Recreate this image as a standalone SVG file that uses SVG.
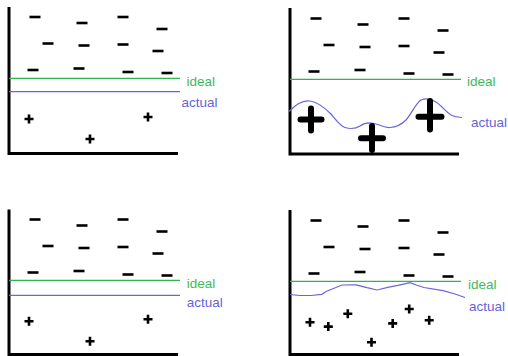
<svg xmlns="http://www.w3.org/2000/svg" xmlns:xlink="http://www.w3.org/1999/xlink" width="508" height="356" viewBox="0 0 508 356">
<style>
.ax{stroke:#000;stroke-width:3;fill:none}
.g{stroke:#2fb44f;stroke-width:1.2}
.b{stroke:#6666dd;stroke-width:1.2;fill:none}
.tg{fill:#3dba5f;font-family:"Liberation Sans",Arial,sans-serif;font-size:13.5px}
.tb{fill:#6464d8;font-family:"Liberation Sans",Arial,sans-serif;font-size:13.5px}
.m{stroke:#000;stroke-width:2.6}
.p{stroke:#000;stroke-width:2.6}
.P{stroke:#000;stroke-width:6;stroke-linecap:round}
</style>
<defs>
<path id="mn" class="m" d="M-5.5 0H5.5"/>
<path id="ps" class="p" d="M-4.5 0H4.5M0 -4.5V4.5"/>
<g id="minus1">
<use xlink:href="#mn" x="35" y="17"/><use xlink:href="#mn" x="82" y="23"/><use xlink:href="#mn" x="123" y="17"/><use xlink:href="#mn" x="162" y="29"/>
<use xlink:href="#mn" x="48" y="43.5"/><use xlink:href="#mn" x="84" y="45.5"/><use xlink:href="#mn" x="123" y="44.5"/><use xlink:href="#mn" x="158" y="51"/>
<use xlink:href="#mn" x="33" y="70"/><use xlink:href="#mn" x="79" y="68.5"/><use xlink:href="#mn" x="128" y="72"/><use xlink:href="#mn" x="167" y="73"/>
</g>
</defs>
<g id="panel1">
<path class="ax" d="M9 7V153.5H178"/>
<use xlink:href="#minus1"/>
<line class="g" x1="9" y1="78.3" x2="180" y2="78.3"/>
<line class="b" x1="9" y1="91.7" x2="180" y2="91.7"/>
<text class="tg" x="186.5" y="85.5">ideal</text>
<text class="tb" x="181.5" y="106.5">actual</text>
<use xlink:href="#ps" x="29" y="119"/><use xlink:href="#ps" x="148" y="117"/><use xlink:href="#ps" x="90" y="139"/>
</g>
<g id="panel2">
<path class="ax" d="M290 8V154H459"/>
<use xlink:href="#minus1" x="281" y="1.5"/>
<line class="g" x1="290" y1="79.3" x2="461" y2="79.3"/>
<text class="tg" x="467" y="85.5">ideal</text>
<path class="b" d="M289 111.5C296 104 303 100 310 101C318 102 325 108 331 114C336 120 340 126 345 127.5C350 129 356 128.5 360 126C364 123 368 122.5 372 123C378 123.5 384 128 390 127.5C397 127 402 124 406 120C412 113 416 103 421 100C426 98 431 99 436 102C442 106 447 113 452 115.5C455 117 458 117 462 117.5"/>
<text class="tb" x="471" y="127">actual</text>
<path class="P" d="M300.5 119.5H321.5M311 108.5V130.5"/>
<path class="P" d="M361 138.3H383M372 126V150"/>
<path class="P" d="M418.5 116.7H441.5M430 101V129.5"/>
</g>
<g id="panel3">
<path class="ax" d="M9 209.5V354.5H178"/>
<use xlink:href="#minus1" y="202.5"/>
<line class="g" x1="9" y1="280.3" x2="180" y2="280.3"/>
<line class="b" x1="9" y1="295.3" x2="180" y2="295.3"/>
<text class="tg" x="186.7" y="288">ideal</text>
<text class="tb" x="186.7" y="306.5">actual</text>
<use xlink:href="#ps" x="29" y="321.3"/><use xlink:href="#ps" x="148" y="319.3"/><use xlink:href="#ps" x="90" y="341.3"/>
</g>
<g id="panel4">
<path class="ax" d="M290 210V354.5H459"/>
<use xlink:href="#minus1" x="281" y="203.5"/>
<line class="g" x1="290" y1="281.3" x2="461" y2="281.3"/>
<text class="tg" x="468" y="289">ideal</text>
<path class="b" d="M290 294.5L300 295.5L311 295.5L322 294.3L326 291.5L331 289.5L342 285L356 284.8L367 287.7L377 290L390 286.8L398 285.3L410 282.7L417 285.3L424 287.5L443 290.7L455 294L465 297.5"/>
<text class="tb" x="469" y="311">actual</text>
<use xlink:href="#ps" x="310" y="322.3"/><use xlink:href="#ps" x="328.3" y="326.6"/><use xlink:href="#ps" x="347.8" y="313.8"/><use xlink:href="#ps" x="371.5" y="342.3"/><use xlink:href="#ps" x="392.7" y="323.4"/><use xlink:href="#ps" x="409.2" y="309"/><use xlink:href="#ps" x="429.2" y="320.3"/>
</g>
</svg>
